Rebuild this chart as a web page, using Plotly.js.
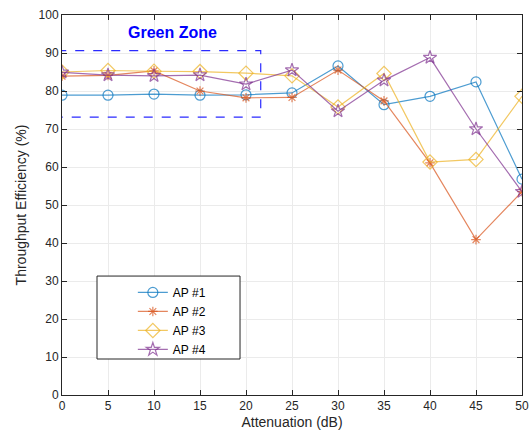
<!DOCTYPE html>
<html><head><meta charset="utf-8">
<script src="https://cdn.plot.ly/plotly-3.0.1.min.js"></script>
<style>html,body{margin:0;padding:0;background:#fff}#c{width:532px;height:442px}</style>
</head><body><div id="c"></div>
<script>
const attenuation = [0,5,10,15,20,25,30,35,40,45,50];
const ap1 = [78.9,78.9,79.2,78.9,79.0,79.5,86.6,76.4,78.6,82.4,56.8];
const ap2 = [83.9,84.1,85.3,80.0,78.2,78.3,85.5,77.4,61.1,40.9,53.5];
const ap3 = [85.0,85.4,85.2,85.1,84.7,84.0,75.8,84.6,61.3,62.0,78.6];
const ap4 = [84.9,84.2,84.0,84.2,81.8,85.5,74.7,82.8,88.8,70.0,53.5];
const seriesNames = ['AP #1','AP #2','AP #3','AP #4'];
const zoneX = [-0.9, 21.6];
const zoneY = [73.1, 90.6];

const colors = ['rgba(0,114,189,0.7)','rgba(217,83,25,0.7)','rgba(237,177,32,0.7)','rgba(126,47,142,0.7)'];
const symbols = ['circle-open','asterisk-open','diamond-open','star-open'];
const sizes = [10,8,11,10];
const data = [ap1,ap2,ap3,ap4].map((y,i)=>({
  x: attenuation, y: y, name: seriesNames[i], type:'scatter', mode:'lines+markers',
  line:{color:colors[i], width:1.2},
  marker:{symbol:symbols[i], size:sizes[i], color:colors[i], line:{color:colors[i], width:1.2}}
}));

const axisBase = {
  showline:true, linecolor:'#262626', linewidth:1, mirror:'ticks',
  ticks:'inside', ticklen:5, tickcolor:'#262626',
  showgrid:true, gridcolor:'#ebebeb', gridwidth:1,
  zeroline:false, tickfont:{family:'Arial, Liberation Sans, sans-serif', size:12, color:'#262626'}
};
const layout = {
  width:532, height:442,
  margin:{l:62, r:10, t:15, b:47},
  paper_bgcolor:'#fff', plot_bgcolor:'#fff',
  showlegend:true,
  legend:{x:0.154, y:0.308, xanchor:'left', yanchor:'top', bgcolor:'rgba(0,0,0,0)', borderwidth:0,
    font:{family:'Arial, Liberation Sans, sans-serif', size:12, color:'#000'}, tracegroupgap:0},
  xaxis: Object.assign({}, axisBase, {range:[0,50], dtick:5, title:{text:'Attenuation (dB)', standoff:4, font:{family:'Arial, Liberation Sans, sans-serif', size:14, color:'#262626'}}}),
  yaxis: Object.assign({}, axisBase, {range:[0,100], dtick:10, title:{text:'Throughput Efficiency (%)', standoff:8, font:{family:'Arial, Liberation Sans, sans-serif', size:14, color:'#262626'}}}),
  shapes:[
    {type:'rect', xref:'x', yref:'y', x0:zoneX[0], x1:zoneX[1], y0:zoneY[0], y1:zoneY[1],
     line:{color:'#2a2aff', width:1.2, dash:'dash'}, fillcolor:'rgba(0,0,0,0)', layer:'above'},
    {type:'rect', xref:'paper', yref:'paper', x0:0.0761, x1:0.387, y0:0.0947, y1:0.313,
     line:{color:'#262626', width:1}, fillcolor:'#ffffff', layer:'above'}
  ],
  annotations:[{x:12, y:95.3, xref:'x', yref:'y', text:'<b>Green Zone</b>', showarrow:false,
    font:{family:'Arial, Liberation Sans, sans-serif', size:16, color:'#0000ff'}}]
};
Plotly.newPlot('c', data, layout, {displayModeBar:false});
</script></body></html>
